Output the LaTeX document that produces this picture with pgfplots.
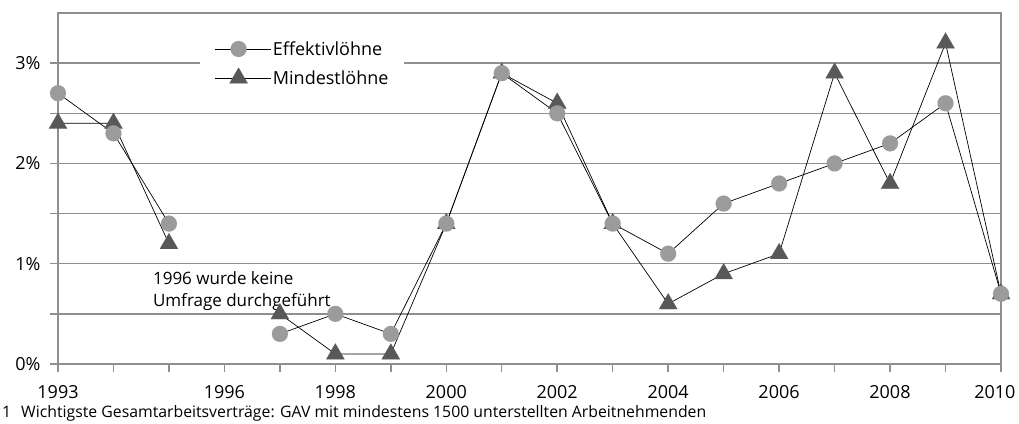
\documentclass[border=0pt]{standalone}
\usepackage{pgfplots}
\pgfplotsset{compat=1.18}
\usepackage{fontspec}
\setmainfont{Open Sans}
\usetikzlibrary{calc}
\definecolor{gridgray}{HTML}{8F8F8F}
\definecolor{lightm}{HTML}{9B9B9B}
\definecolor{darkm}{HTML}{585858}
\begin{document}
\begin{tikzpicture}
\begin{axis}[
 name=ax, scale only axis, width=943pt, height=351pt,
 xmin=1993, xmax=2010, ymin=0, ymax=3.5,
 clip=false,
 axis line style={gridgray, line width=1.5pt},
 xtick={1993,...,2010},
 xticklabels={1993,,,1996,,1998,,2000,,2002,,2004,,2006,,2008,,\makebox[0pt]{\hspace{-12pt}2010}},
 ytick={0,1,2,3}, yticklabels={0\%,1\%,2\%,3\%},
 minor ytick={0.5,1.5,2.5},
 ymajorgrids, yminorgrids,
 grid style={gridgray, line width=1.5pt},
 minor grid style={gridgray, line width=1.5pt},
 xtick align=outside, ytick align=outside,
 xtick pos=bottom, ytick pos=left,
 major tick length=8pt, minor tick length=8pt,
 every tick/.style={gridgray, line width=1.5pt},
 ticklabel style={font=\fontsize{18}{22}\selectfont},
 xticklabel style={yshift=-10pt},
 yticklabel style={xshift=-6pt},
 /pgf/number format/assume math mode=true,
 unbounded coords=jump,
 legend style={at={(0.1506,0.934)}, anchor=north west, draw=none, fill=white,
   font=\fontsize{18}{22}\selectfont, row sep=9pt, inner xsep=14pt, inner ysep=3pt},
 legend cell align=left,
 reverse legend,
 legend image code/.code={\path (0pt,0pt) -- (56pt,0pt); \draw[#1,mark=none] (0pt,0pt) -- (48pt,0pt); \draw[#1] plot coordinates {(24pt,0pt)};},
]
\addplot[black, line width=0.7pt, mark=triangle*, mark size=10.5pt, mark options={draw=darkm, fill=darkm, line width=0.1pt}] coordinates {
(1993,2.4) (1994,2.4) (1995,1.2) (1996,nan) (1997,0.5) (1998,0.1) (1999,0.1) (2000,1.4)
(2001,2.9) (2002,2.6) (2003,1.4) (2004,0.6) (2005,0.9) (2006,1.1) (2007,2.9) (2008,1.8)
(2009,3.2) (2010,0.7)};
\addlegendentry{Mindestlöhne}
\addplot[black, line width=0.7pt, mark=*, mark size=8pt, mark options={draw=lightm, fill=lightm, line width=0.1pt}] coordinates {
(1993,2.7) (1994,2.3) (1995,1.4) (1996,nan) (1997,0.3) (1998,0.5) (1999,0.3) (2000,1.4)
(2001,2.9) (2002,2.5) (2003,1.4) (2004,1.1) (2005,1.6) (2006,1.8) (2007,2.0) (2008,2.2)
(2009,2.6) (2010,0.7)};
\addlegendentry{Effektivlöhne}
\node[anchor=north west, align=left, font=\fontsize{17}{22}\selectfont, inner sep=0pt] at (axis cs:1994.71,0.92) {1996 wurde keine\\Umfrage durchgeführt};
\end{axis}
\node[anchor=base west, font=\fontsize{15.8}{18}\selectfont, inner sep=0pt] at ($(ax.south west)+(-56pt,-53pt)$) {1\hspace{10pt}Wichtigste Gesamtarbeitsverträge: GAV mit mindestens 1500 unterstellten Arbeitnehmenden};
\pgfresetboundingbox
\path[use as bounding box] ($(ax.south west)+(-58pt,-59pt)$) rectangle ($(ax.north east)+(18pt,13pt)$);
\end{tikzpicture}
\end{document}
